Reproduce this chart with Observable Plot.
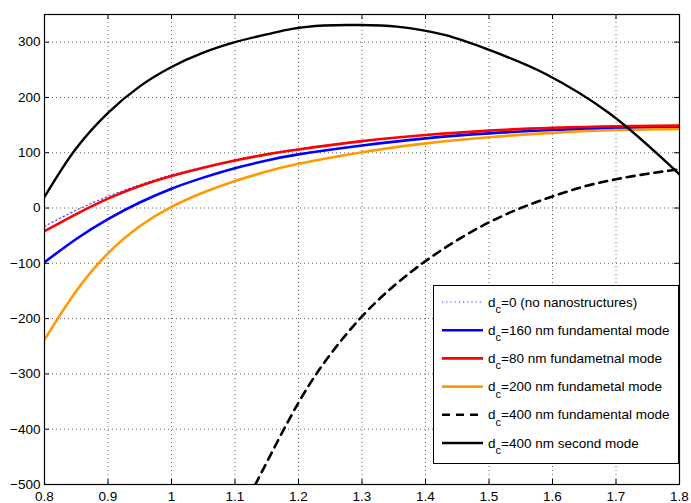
<!DOCTYPE html>
<html><head><meta charset="utf-8">
<script src="https://cdn.jsdelivr.net/npm/d3@7"></script>
<script src="https://cdn.jsdelivr.net/npm/@observablehq/plot@0.6"></script>
<style>
body{margin:0;background:#fff}
#wrap{position:relative;width:691px;height:503px}
#wrap svg{position:absolute;left:0;top:0}
</style>
</head><body><div id="wrap"></div>
<script>
// Tick values
const xTicks = [0.8, 0.9, 1.0, 1.1, 1.2, 1.3, 1.4, 1.5, 1.6, 1.7, 1.8];
const yTicks = [-500, -400, -300, -200, -100, 0, 100, 200, 300];

// Shared x samples for the four smooth curves
const xs = [0.8, 0.85, 0.9, 0.95, 1.0, 1.05, 1.1, 1.15, 1.2, 1.3, 1.4, 1.5, 1.6, 1.7, 1.8];
const dc0    = [-33, -4, 21, 42, 60, 74, 87, 98, 107, 121, 132, 140, 145, 148, 149];
const dc160  = [-98, -56, -20, 10, 35, 55, 72, 86, 97, 113, 126, 135, 141, 145, 147];
const dc80   = [-42, -11, 17, 40, 58, 73, 86, 97, 106, 121, 132, 140, 145, 148, 149];
const dc200  = [-238, -150, -82, -33, 2, 28, 49, 66, 80, 101, 117, 128, 136, 141, 143];

// d_c = 400 nm fundamental mode (dashed)
const xs400f = [1.132, 1.15, 1.2, 1.25, 1.3, 1.35, 1.4, 1.45, 1.5, 1.55, 1.6, 1.65, 1.7, 1.75, 1.8];
const dc400f = [-500, -460, -352, -265, -196, -141, -96, -58, -26, 0, 21, 39, 52, 62, 70];

// d_c = 400 nm second mode (solid black)
const xs400s = [0.8, 0.85, 0.9, 0.95, 1.0, 1.05, 1.1, 1.15, 1.19, 1.24, 1.29, 1.355, 1.43, 1.5, 1.59, 1.69, 1.8];
const dc400s = [20, 108, 172, 220, 255, 281, 300, 314, 324, 330, 331, 328, 313, 286, 242, 171, 61];

const labels = [
  "=0 (no nanostructures)",
  "=160 nm fundamental mode",
  "=80 nm fundametnal mode",
  "=200 nm fundametal mode",
  "=400 nm fundamental mode",
  "=400 nm second mode"
];

const series = [
  {x: xs, y: dc0,    stroke: "#3a3aff", sw: 1.2, dash: "1.2,3", curve: "natural"},
  {x: xs, y: dc160,  stroke: "#0000ff", sw: 2.6, dash: null, curve: "natural"},
  {x: xs, y: dc80,   stroke: "#ff0000", sw: 2.6, dash: null, curve: "natural"},
  {x: xs, y: dc200,  stroke: "#ff9a00", sw: 2.6, dash: null, curve: "natural"},
  {x: xs400f, y: dc400f, stroke: "#000000", sw: 2.6, dash: "8,6", curve: "natural"},
  {x: xs400s, y: dc400s, stroke: "#000000", sw: 2.4, dash: null, curve: "catmull-rom"}
];

const W = 691, H = 503, mL = 44, mR = 12, mT = 14, mB = 19;
const pw = W - mL - mR, ph = H - mT - mB, tk = 5;
const font = "'Liberation Sans', Arial, Helvetica, sans-serif";

const lineMarks = series.map(s => {
  const rows = s.x.map((x, i) => ({x, y: s.y[i]}));
  return Plot.line(rows, {x: "x", y: "y", stroke: s.stroke, strokeWidth: s.sw,
    strokeDasharray: s.dash, curve: s.curve, clip: true});
});

const chart = Plot.plot({
  width: W, height: H,
  marginLeft: mL, marginRight: mR, marginTop: mT, marginBottom: mB,
  x: {domain: [0.8, 1.8], label: null},
  y: {domain: [-500, 350], label: null},
  style: {fontFamily: font, fontSize: "13.5px", color: "#000", background: "#fff"},
  marks: [
    Plot.gridX(xTicks, {stroke: "#000", strokeOpacity: 0.6, strokeDasharray: "1,3"}),
    Plot.gridY(yTicks, {stroke: "#000", strokeOpacity: 0.6, strokeDasharray: "1,3"}),
    ...lineMarks,
    Plot.ruleX(xTicks, {x: d => d, insetTop: ph - tk, stroke: "#000"}),
    Plot.ruleX(xTicks, {x: d => d, insetBottom: ph - tk, stroke: "#000"}),
    Plot.ruleY(yTicks, {y: d => d, insetRight: pw - tk, stroke: "#000"}),
    Plot.ruleY(yTicks, {y: d => d, insetLeft: pw - tk, stroke: "#000"}),
    Plot.axisX(xTicks, {tickSize: 0, tickPadding: 7, label: null, tickFormat: d => d3.format("")(d)}),
    Plot.axisY(yTicks, {tickSize: 0, tickPadding: 4, label: null, tickFormat: d => d < 0 ? "\u2212" + (-d) : String(d)}),
    Plot.frame({stroke: "#000", strokeWidth: 1.2})
  ]
});
document.getElementById("wrap").appendChild(chart);

// Legend overlay
const lg = d3.select("#wrap").append("svg").attr("width", W).attr("height", H)
  .style("font-family", font).style("font-size", "13.5px");
const bx = 433, by = 285, bw = 245, bh = 178;
lg.append("rect").attr("x", bx + 0.5).attr("y", by + 0.5).attr("width", bw).attr("height", bh)
  .attr("fill", "#fff").attr("stroke", "#000").attr("stroke-width", 1);
series.forEach((s, i) => {
  const cy = 302 + i * 28.2;
  lg.append("line").attr("x1", 442).attr("x2", 483).attr("y1", cy).attr("y2", cy)
    .attr("stroke", s.stroke).attr("stroke-width", s.sw)
    .attr("stroke-dasharray", s.dash);
  const t = lg.append("text").attr("x", 488).attr("y", cy + 4.5).attr("fill", "#000");
  t.append("tspan").text("d");
  t.append("tspan").attr("dy", 6.5).attr("font-size", "11px").text("c");
  t.append("tspan").attr("dy", -6.5).text(labels[i]);
});
</script>
</body></html>
